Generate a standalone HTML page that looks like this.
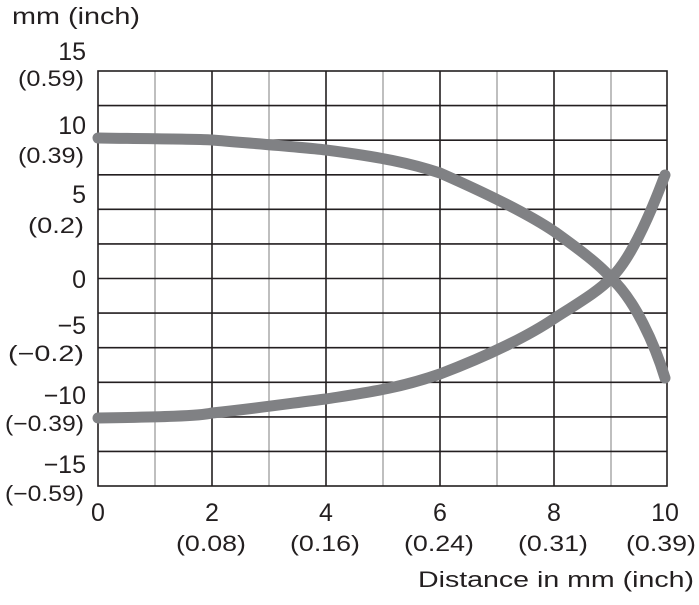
<!DOCTYPE html>
<html><head><meta charset="utf-8"><style>body{margin:0;background:#fff}</style></head><body>
<svg width="699" height="600" xmlns="http://www.w3.org/2000/svg" font-family="Liberation Sans, sans-serif" fill="#231f20">
<g stroke="#aaa" stroke-width="1.5">
<line x1="155" y1="71" x2="155" y2="486"/><line x1="269" y1="71" x2="269" y2="486"/><line x1="383" y1="71" x2="383" y2="486"/><line x1="497" y1="71" x2="497" y2="486"/><line x1="611" y1="71" x2="611" y2="486"/>
</g>
<g stroke="#231f20" stroke-width="1.6">
<line x1="212" y1="71" x2="212" y2="486"/><line x1="326" y1="71" x2="326" y2="486"/><line x1="440" y1="71" x2="440" y2="486"/><line x1="554" y1="71" x2="554" y2="486"/>
<line x1="98" y1="105.6" x2="667" y2="105.6"/><line x1="98" y1="140.2" x2="667" y2="140.2"/><line x1="98" y1="174.8" x2="667" y2="174.8"/><line x1="98" y1="209.3" x2="667" y2="209.3"/><line x1="98" y1="243.9" x2="667" y2="243.9"/><line x1="98" y1="278.5" x2="667" y2="278.5"/><line x1="98" y1="313.1" x2="667" y2="313.1"/><line x1="98" y1="347.7" x2="667" y2="347.7"/><line x1="98" y1="382.3" x2="667" y2="382.3"/><line x1="98" y1="416.9" x2="667" y2="416.9"/><line x1="98" y1="451.4" x2="667" y2="451.4"/>
<rect x="98" y="71" width="569" height="415" fill="none"/>
</g>
<g fill="none" stroke="#808184" stroke-width="11" stroke-linecap="round" stroke-linejoin="round">
<path d="M98,138 C160,139 200,139 212,140 C260,144 300,147 326,150 C380,157 410,163 440,173 C490,195 530,215 555,232 C580,250 600,265 611,278 C635,300 655,345 665,378"/>
<path d="M98,418 C160,417 200,416 212,413 C260,408 300,402 326,399 C370,392 400,388 440,374 C490,355 530,335 555,318 C580,302 600,290 611,278 C630,260 650,215 665,175"/>
</g>
<g font-size="25">
<text x="12" y="24" font-size="23" textLength="128" lengthAdjust="spacingAndGlyphs">mm (inch)</text>
<text x="86" y="60" text-anchor="end">15</text>
<text x="86" y="134" text-anchor="end">10</text>
<text x="86" y="203" text-anchor="end">5</text>
<text x="86" y="288" text-anchor="end">0</text>
<text x="86" y="334" text-anchor="end">−5</text>
<text x="86" y="404" text-anchor="end">−10</text>
<text x="86" y="473" text-anchor="end">−15</text>
<text x="98" y="521" text-anchor="middle">0</text>
<text x="212" y="521" text-anchor="middle">2</text>
<text x="326" y="521" text-anchor="middle">4</text>
<text x="440" y="521" text-anchor="middle">6</text>
<text x="554" y="521" text-anchor="middle">8</text>
<text x="665" y="521" text-anchor="middle">10</text>
</g>
<g font-size="22">
<text x="18" y="86" textLength="66" lengthAdjust="spacingAndGlyphs">(0.59)</text>
<text x="18" y="163" textLength="66" lengthAdjust="spacingAndGlyphs">(0.39)</text>
<text x="28" y="233" textLength="56" lengthAdjust="spacingAndGlyphs">(0.2)</text>
<text x="8" y="361" textLength="76" lengthAdjust="spacingAndGlyphs">(−0.2)</text>
<text x="5" y="431" textLength="79" lengthAdjust="spacingAndGlyphs">(−0.39)</text>
<text x="5" y="501" textLength="79" lengthAdjust="spacingAndGlyphs">(−0.59)</text>
<text x="176" y="551" textLength="70" lengthAdjust="spacingAndGlyphs">(0.08)</text>
<text x="290" y="551" textLength="70" lengthAdjust="spacingAndGlyphs">(0.16)</text>
<text x="404" y="551" textLength="70" lengthAdjust="spacingAndGlyphs">(0.24)</text>
<text x="518" y="551" textLength="70" lengthAdjust="spacingAndGlyphs">(0.31)</text>
<text x="626" y="551" textLength="70" lengthAdjust="spacingAndGlyphs">(0.39)</text>
<text x="418" y="587" textLength="276" lengthAdjust="spacingAndGlyphs">Distance in mm (inch)</text>
</g>
</svg>
</body></html>
